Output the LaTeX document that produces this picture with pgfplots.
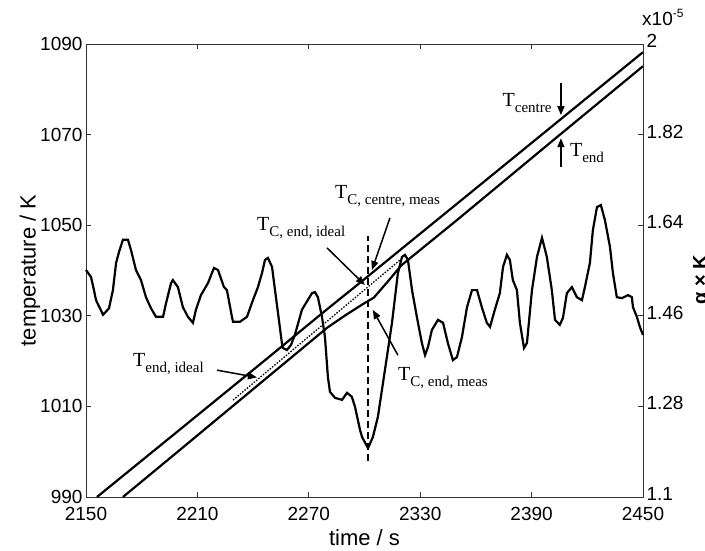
\documentclass[border=0pt]{standalone}
\usepackage{fontspec}
\setmainfont{Liberation Sans}
\newfontfamily\timesf{Liberation Serif}
\usepackage{pgfplots}
\pgfplotsset{compat=1.18}
\usetikzlibrary{arrows.meta}
\newcommand{\lab}[1]{{\timesf\fontsize{20}{20}\selectfont T\raisebox{-6pt}{\fontsize{15}{15}\selectfont #1}}}
\tikzset{ann/.style={-{Triangle[length=9pt,width=7pt]}, line width=1.5pt, black}}
\begin{document}
\begin{tikzpicture}
\pgfplotsset{
  common/.style={scale only axis, width=557pt, height=453pt, xmin=2150, xmax=2450,
    at={(0pt,0pt)}, anchor=south west,
    tick align=inside, major tick length=5pt,
    axis line style={line width=0.8pt, black!80},
    every tick/.style={black!80, line width=0.8pt},
    tick label style={font=\fontsize{19}{19}\selectfont},
    /pgf/number format/assume math mode=true,
    /pgf/number format/set thousands separator={},
    clip=false},
}
\begin{axis}[common,
  ymin=990, ymax=1090, ytick={990,1010,1030,1050,1070,1090},
  xtick={2150,2210,2270,2330,2390,2450},
  xticklabel style={yshift=-7pt},
  ytick pos=left,
  xlabel={time / s}, ylabel={temperature / K},
  label style={font=\fontsize{22}{22}\selectfont},
  xlabel style={at={(axis description cs:0.5,-0.0905)}, anchor=center},
  ylabel style={at={(axis description cs:-0.1005,0.5)}, anchor=center},
]
% T centre
\addplot[black, line width=2.2pt] coordinates {
(2155.9,990) (2200,1004.7) (2250,1021.4) (2277,1030.5) (2290,1034.8) (2300,1038.1)
(2320,1044.8) (2350,1054.8) (2400,1071.5) (2450,1088.2)};
% T end
\addplot[black, line width=2.2pt] coordinates {
(2169.9,990) (2200,1000.2) (2250,1017.2) (2280,1027.4) (2290,1030.2) (2300,1032.8)
(2305,1034.0) (2312,1037.3) (2320,1041.2) (2350,1051.2) (2400,1068.2) (2450,1085.1)};
% T end ideal (dotted)
\addplot[black, line width=1.3pt, dash pattern=on 1.5pt off 1.5pt] coordinates {
(2229.2,1011.4) (2319.1,1042.3)};
% vertical dashed line
\addplot[black, line width=1.6pt, dash pattern=on 7pt off 4pt] coordinates {
(2302,998) (2302,1047.6)};
% annotations
\node[anchor=base west, inner sep=0] at (axis cs:2284.1,1056.0) {\lab{C, centre, meas}};
\node[anchor=base west, inner sep=0] at (axis cs:2242.1,1048.9) {\lab{C, end, ideal}};
\node[anchor=base west, inner sep=0] at (axis cs:2318.0,1015.8) {\lab{C, end, meas}};
\node[anchor=base west, inner sep=0] at (axis cs:2175.3,1018.7) {\lab{end, ideal}};
\node[anchor=base west, inner sep=0] at (axis cs:2374.3,1076.3) {\lab{centre}};
\node[anchor=base west, inner sep=0] at (axis cs:2410.6,1065.1) {\lab{end}};
\draw[ann] (axis cs:2313.7,1051.6) -- (axis cs:2304.0,1040.1);
\draw[ann] (axis cs:2279.8,1045.0) -- (axis cs:2300.2,1036.8);
\draw[ann] (axis cs:2318.0,1021.3) -- (axis cs:2304.5,1031.3);
\draw[ann] (axis cs:2220.5,1018.0) -- (axis cs:2242.1,1016.4);
\draw[ann] (axis cs:2405.8,1081.4) -- (axis cs:2405.8,1074.3);
\draw[ann] (axis cs:2405.8,1062.8) -- (axis cs:2405.8,1069.2);
\end{axis}
\begin{axis}[common,
  axis y line*=right, axis x line=none,
  ymin=1.1, ymax=2, ytick={1.1,1.28,1.46,1.64,1.82,2},
  yticklabels={1.1,1.28,1.46,1.64,1.82,2},
  yticklabel style={yshift=3pt},
  scaled y ticks=false,
]
\addplot[black, line width=2.2pt] table {
2150 1.551
2152.7 1.537
2154.3 1.511
2155.4 1.491
2159.2 1.462
2162.4 1.475
2164.5 1.511
2166.2 1.565
2167.8 1.587
2169.9 1.611
2172.6 1.611
2174.2 1.591
2176.9 1.551
2179.6 1.531
2182.3 1.497
2185.0 1.475
2187.7 1.458
2191.5 1.458
2193.1 1.485
2195.8 1.525
2196.8 1.531
2199.5 1.517
2202.2 1.477
2204.9 1.458
2207.6 1.446
2209.2 1.472
2211.9 1.501
2215.7 1.525
2218.9 1.555
2221.1 1.551
2224.3 1.517
2225.9 1.511
2228.6 1.458
2229.2 1.448
2232.9 1.448
2236.7 1.458
2239.9 1.491
2242.6 1.517
2244.8 1.545
2246.4 1.571
2248.0 1.575
2250.2 1.557
2251.8 1.511
2253.4 1.466
2255.5 1.406
2256.1 1.396
2258.2 1.392
2260.4 1.402
2262.5 1.422
2266.3 1.472
2271.7 1.505
2273.3 1.507
2274.9 1.497
2277.1 1.458
2278.7 1.418
2280.3 1.338
2281.4 1.309
2284.1 1.297
2287.9 1.293
2290.6 1.307
2293.2 1.299
2294.9 1.279
2297.6 1.233
2298.7 1.219
2301.9 1.197
2304.5 1.219
2307.2 1.259
2311.0 1.352
2314.8 1.446
2318.0 1.545
2320.2 1.577
2321.8 1.581
2323.4 1.571
2325.6 1.511
2328.2 1.458
2330.9 1.406
2332.6 1.382
2334.2 1.398
2336.3 1.432
2339.6 1.452
2342.3 1.446
2344.9 1.406
2347.6 1.372
2349.8 1.378
2352.5 1.418
2355.2 1.477
2357.9 1.511
2360.6 1.511
2363.2 1.477
2365.9 1.446
2367.6 1.438
2370.2 1.472
2372.9 1.505
2374.6 1.557
2376.7 1.581
2378.3 1.571
2379.9 1.531
2382.1 1.511
2383.7 1.446
2385.9 1.396
2387.5 1.406
2390.2 1.511
2392.9 1.577
2395.6 1.615
2398.2 1.577
2400.9 1.511
2402.6 1.452
2405.2 1.442
2406.9 1.456
2409.0 1.505
2411.7 1.517
2414.4 1.497
2417.1 1.491
2418.7 1.517
2421.4 1.565
2423.0 1.630
2425.2 1.676
2427.3 1.680
2429.5 1.650
2432.2 1.597
2433.8 1.545
2435.9 1.497
2438.6 1.495
2441.9 1.501
2444.0 1.497
2444.6 1.477
2446.7 1.458
2448.3 1.438
2450 1.422
};
\node[anchor=west, inner sep=0, font=\fontsize{19}{19}\selectfont] at (rel axis cs:1,1) [yshift=27pt, xshift=-1pt] {x10\raisebox{8pt}{\fontsize{12}{12}\selectfont -5}};
\end{axis}
\node[rotate=90, anchor=north, inner sep=0, font=\bfseries\fontsize{20}{20}\selectfont] at (607pt,217pt) {α × K};
\pgfresetboundingbox
\path[use as bounding box] (-86pt,-53pt) rectangle (619pt,497pt);
\end{tikzpicture}
\end{document}
